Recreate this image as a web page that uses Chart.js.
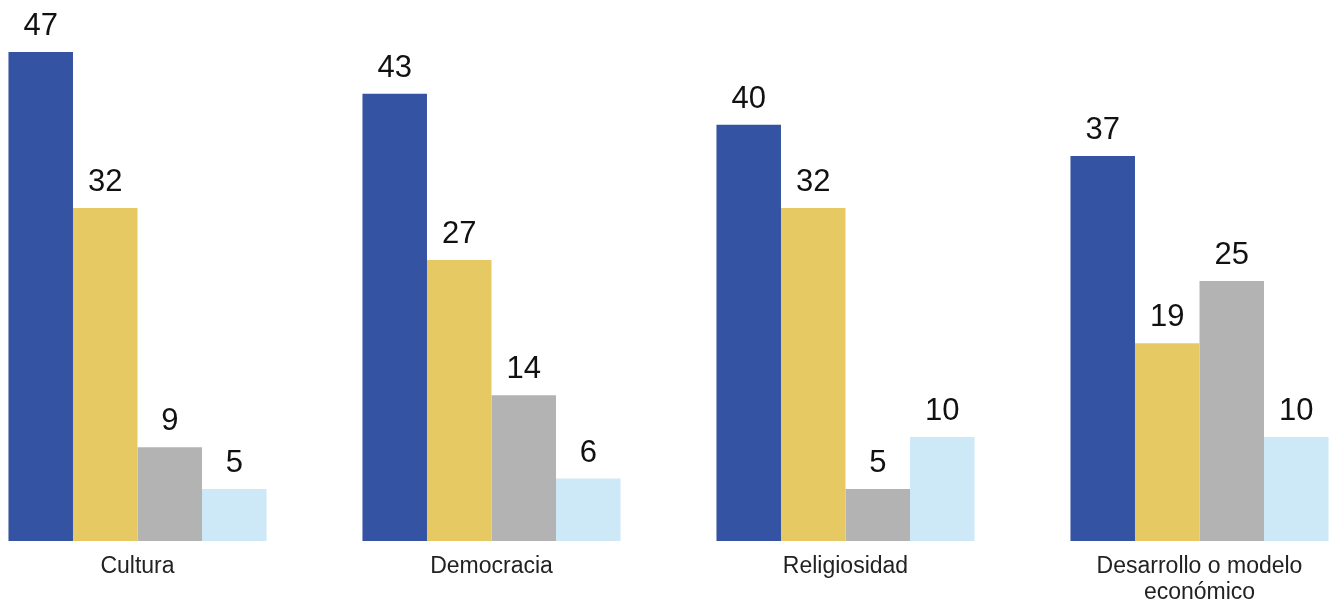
<!DOCTYPE html>
<html lang="es">
<head>
<meta charset="utf-8">
<script src="https://cdn.jsdelivr.net/npm/chart.js@4.4.1/dist/chart.umd.min.js"></script>
<style>
  html, body { margin: 0; padding: 0; background: #ffffff; overflow: hidden; }
  #wrap { position: relative; width: 1334px; height: 601px; }
</style>
</head>
<body>
<div id="wrap"><canvas id="barChart"></canvas></div>
<script>
const categorias = ['Cultura', 'Democracia', 'Religiosidad', ['Desarrollo o modelo', 'económico']];
const serie1 = [47, 43, 40, 37];
const serie2 = [32, 27, 32, 19];
const serie3 = [9, 14, 5, 25];
const serie4 = [5, 6, 10, 10];

const colores = ['#3553a3', '#e7c963', '#b3b3b3', '#cde8f6'];

const ctx = document.getElementById('barChart').getContext('2d');

const chart = new Chart(ctx, {
  type: 'bar',
  data: {
    labels: categorias,
    datasets: [serie1, serie2, serie3, serie4].map((valores, i) => ({
      label: 'Serie ' + (i + 1),
      data: valores,
      backgroundColor: colores[i],
      borderWidth: 0,
      barPercentage: 1,
      categoryPercentage: 0.729,
      clip: false
    }))
  },
  options: {
    responsive: true,
    maintainAspectRatio: false,
    animation: false,
    layout: {
      padding: { left: 137.5, right: 134.5, top: 0, bottom: 0 }
    },
    plugins: {
      legend: { display: false },
      tooltip: { enabled: false }
    },
    scales: {
      x: {
        offset: false,
        border: { display: false },
        grid: { display: false, drawTicks: false },
        ticks: {
          padding: 12,
          color: '#222222',
          maxRotation: 0,
          autoSkip: false,
          font: { family: '"Liberation Sans", Arial, sans-serif', size: 23, lineHeight: 1.15 }
        },
        afterFit(scale) {
          scale.height = 60;
        }
      },
      y: {
        display: false,
        min: 0,
        max: 52
      }
    }
  },
  plugins: [{
    id: 'etiquetasValores',
    afterDatasetsDraw(chart) {
      const { ctx } = chart;
      ctx.save();
      ctx.font = '31px "Liberation Sans", Arial, sans-serif';
      ctx.fillStyle = '#111111';
      ctx.textAlign = 'center';
      ctx.textBaseline = 'alphabetic';
      chart.data.datasets.forEach((dataset, d) => {
        const meta = chart.getDatasetMeta(d);
        meta.data.forEach((bar, index) => {
          ctx.fillText(String(dataset.data[index]), bar.x, bar.y - 17);
        });
      });
      ctx.restore();
    }
  }]
});
</script>
</body>
</html>
